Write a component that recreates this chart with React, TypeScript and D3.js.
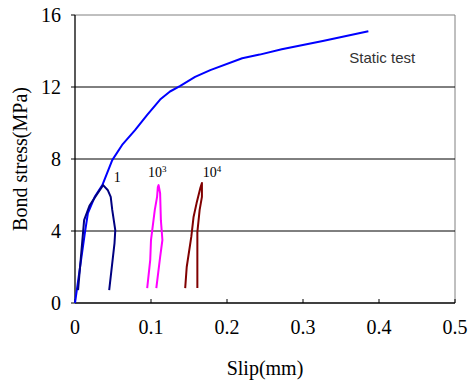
import * as d3 from "d3";
import React from "react";

// slip (mm), bond stress (MPa)
const staticTest: [number, number][] = [
    [0, 0], [0.013, 3.9], [0.017, 5.0], [0.026, 5.9], [0.036, 6.55],
    [0.049, 7.94], [0.062, 8.78], [0.079, 9.6], [0.095, 10.45], [0.112, 11.3],
    [0.125, 11.75], [0.138, 12.05], [0.158, 12.56], [0.178, 12.94], [0.22, 13.6],
    [0.243, 13.8], [0.272, 14.1], [0.326, 14.55], [0.386, 15.1]
];

const cycle1: [number, number][] = [
    [0.004, 0.72], [0.012, 4.6], [0.019, 5.4], [0.029, 6.05], [0.037, 6.55],
    [0.043, 6.28], [0.047, 5.9], [0.049, 5.17], [0.053, 4.05], [0.052, 3.33],
    [0.045, 0.72]
];

const cycle1e3: [number, number][] = [
    [0.095, 0.83], [0.099, 2.4], [0.1, 3.5], [0.105, 5.17], [0.108, 5.9],
    [0.109, 6.44], [0.11, 6.55], [0.112, 6.1], [0.113, 4.6], [0.115, 3.5],
    [0.112, 2.55], [0.107, 0.83]
];

const cycle1e4: [number, number][] = [
    [0.145, 0.83], [0.147, 2.0], [0.153, 3.67], [0.156, 4.78], [0.16, 5.55],
    [0.165, 6.4], [0.167, 6.67], [0.167, 5.9], [0.164, 5.17], [0.161, 3.94],
    [0.161, 0.83]
];

const xTicks = [0, 0.1, 0.2, 0.3, 0.4, 0.5];
const yTicks = [0, 4, 8, 12, 16];

const serif = "'Liberation Serif', 'Times New Roman', serif";

export default function App() {
    const width = 470;
    const height = 380;
    const margin = {left: 75, right: 15, top: 15, bottom: 77};

    const x = d3.scaleLinear().domain([0, 0.5]).range([margin.left, width - margin.right]);
    const y = d3.scaleLinear().domain([0, 16]).range([height - margin.bottom, margin.top]);

    const line = d3.line<[number, number]>()
        .x(d => x(d[0]))
        .y(d => y(d[1]));

    const series = [
        {data: staticTest, color: "#0000ff"},
        {data: cycle1, color: "#000080"},
        {data: cycle1e3, color: "#ff00ff"},
        {data: cycle1e4, color: "#800000"}
    ];

    return (
        <svg width={width} height={height} style={{position: "absolute", left: 0, top: 0}}>
            <rect width={width} height={height} fill="white" />
            {/* frame */}
            <line x1={x(0)} x2={x(0.5)} y1={y(16)} y2={y(16)} stroke="#808080" />
            <line x1={x(0.5)} x2={x(0.5)} y1={y(16)} y2={y(0)} stroke="#808080" />
            {yTicks.filter(t => t > 0 && t < 16).map(t => (
                <line key={t} x1={x(0)} x2={x(0.5)} y1={y(t)} y2={y(t)} stroke="black" />
            ))}
            <line x1={x(0)} x2={x(0)} y1={y(16)} y2={y(0)} stroke="black" strokeWidth={1.3} />
            <line x1={x(0)} x2={x(0.5)} y1={y(0)} y2={y(0)} stroke="black" strokeWidth={1.3} />
            {yTicks.map(t => (
                <g key={t}>
                    <line x1={x(0) - 4} x2={x(0)} y1={y(t)} y2={y(t)} stroke="black" />
                    <text x={x(0) - 14} y={y(t)} dy="0.35em" textAnchor="end"
                          fontFamily={serif} fontSize={20}>{t}</text>
                </g>
            ))}
            {xTicks.map(t => (
                <g key={t}>
                    <line x1={x(t)} x2={x(t)} y1={y(0)} y2={y(0) - 4} stroke="black" />
                    <text x={x(t)} y={y(0) + 24} dy="0.35em" textAnchor="middle"
                          fontFamily={serif} fontSize={20}>{t}</text>
                </g>
            ))}
            {series.map((s, i) => (
                <path key={i} d={line(s.data) ?? ""} fill="none" stroke={s.color}
                      strokeWidth={2} strokeLinejoin="round" />
            ))}
            <text x={x(0.051)} y={y(6.7)} fontFamily={serif} fontSize={14}>1</text>
            <text x={x(0.096)} y={y(7.0)} fontFamily={serif} fontSize={14}>
                10<tspan dy={-5} fontSize={9}>3</tspan>
            </text>
            <text x={x(0.168)} y={y(7.0)} fontFamily={serif} fontSize={14}>
                10<tspan dy={-5} fontSize={9}>4</tspan>
            </text>
            <text x={x(0.361)} y={y(13.35)} fontFamily="'Liberation Sans', Arial, sans-serif"
                  fontSize={15} fill="#333">Static test</text>
            <text x={(x(0) + x(0.5)) / 2} y={368} dy="0.35em" textAnchor="middle"
                  fontFamily={serif} fontSize={20}>Slip(mm)</text>
            <text transform={`translate(20, ${(y(0) + y(16)) / 2}) rotate(-90)`} dy="0.35em"
                  textAnchor="middle" fontFamily={serif} fontSize={20}>Bond stress(MPa)</text>
        </svg>
    );
}
